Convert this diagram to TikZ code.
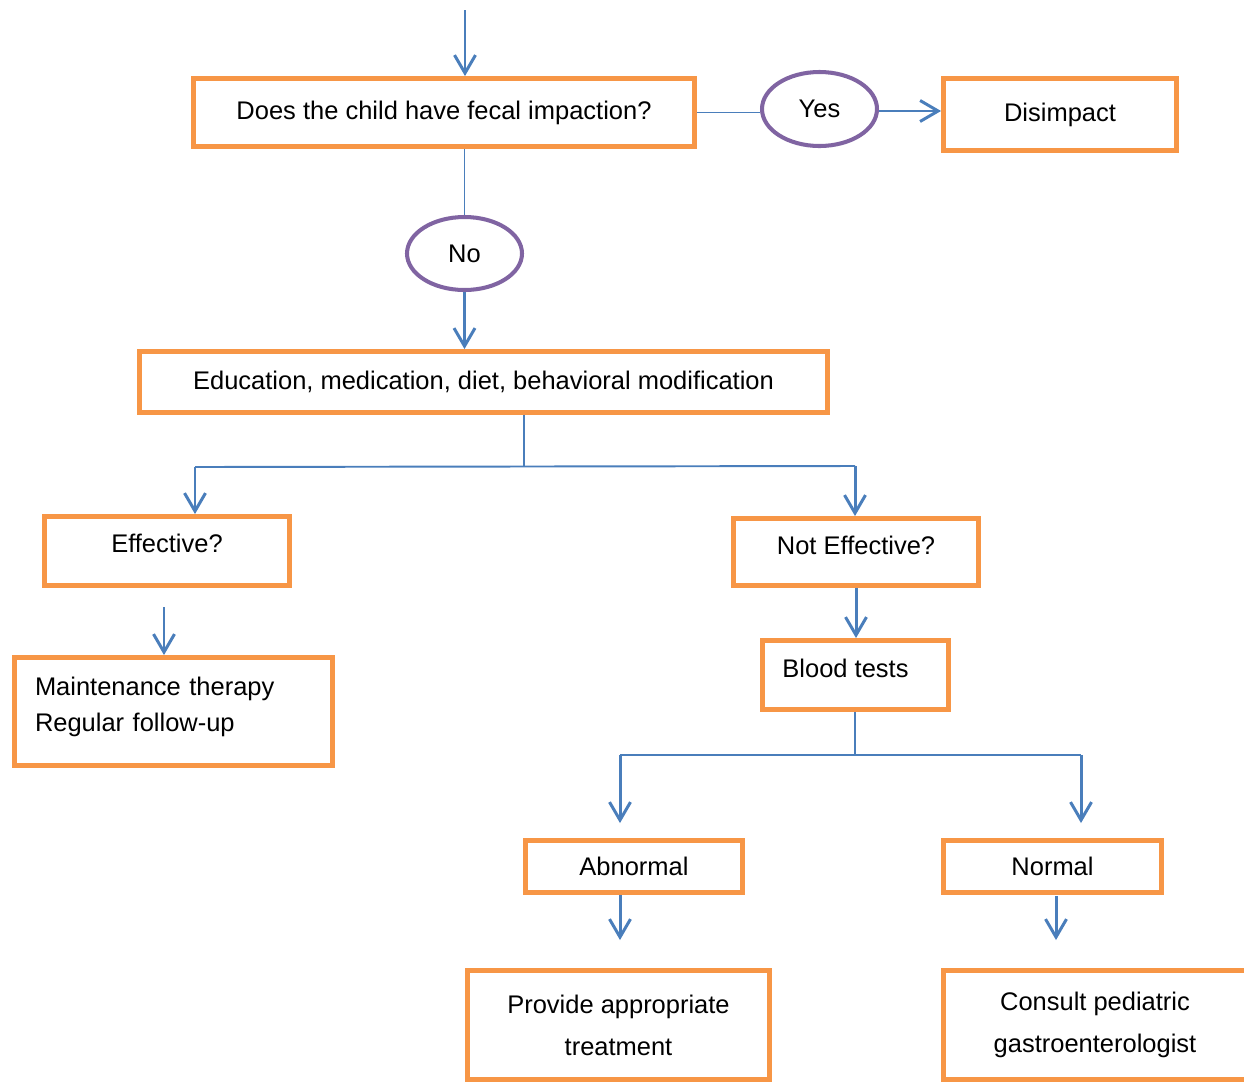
\documentclass[tikz,border=0pt]{standalone}
\usepackage{fontspec}
\setmainfont{Liberation Sans}
\usetikzlibrary{calc,shapes.geometric,arrows.meta}
\definecolor{boxorange}{HTML}{F79646}
\definecolor{linkblue}{HTML}{4A7EBB}
\definecolor{ovalpurple}{HTML}{8064A2}
\tikzset{
	stepbox/.style={draw=boxorange, line width=2.8pt, inner sep=0pt, align=center},
	oval/.style={ellipse, draw=ovalpurple, line width=2.3pt, inner sep=0pt},
	link/.style={draw=linkblue, line width=1.1pt},
	arr/.style={draw=linkblue, line width=1.7pt, -{Straight Barb[length=3.6mm,width=4.2mm]}}
}

\begin{document}
\begin{tikzpicture}[font=\fontsize{14.5}{20.4}\selectfont]
			%%%%% START %%%%%
			
			\useasboundingbox (0, 0) rectangle (24.88, -21.64);
			\clip (0, 0) rectangle (24.88, -21.64);
			
			\node[stepbox, minimum width=10.02cm, minimum height=1.36cm] (q) at (8.88, -2.25) {Does the child have fecal impaction?};
			\node[oval, minimum width=2.30cm, minimum height=1.48cm] (yes) at (16.39, -2.18) {Yes};
			\node[stepbox, minimum width=4.66cm, minimum height=1.44cm] (dis) at (21.20, -2.29) {Disimpact};
			\node[oval, minimum width=2.30cm, minimum height=1.46cm] (no) at (9.29, -5.07) {No};
			
			\node[stepbox, minimum width=13.76cm, minimum height=1.22cm] (edu) at (9.67, -7.64) {Education, medication, diet, behavioral modification};
			
			\node[stepbox, minimum width=4.90cm, minimum height=1.38cm, text depth=0.3cm] (eff) at (3.34, -11.02) {Effective?};
			\node[stepbox, minimum width=4.90cm, minimum height=1.34cm, text depth=0.25cm] (noteff) at (17.12, -11.04) {Not Effective?};
			\node[stepbox, minimum width=6.36cm, minimum height=2.16cm, text width=5.54cm, align=left, text depth=1.0cm] (maint) at (3.47, -14.23) {Maintenance therapy\\Regular follow-up};
			\node[stepbox, minimum width=3.72cm, minimum height=1.38cm, text depth=0.25cm] (blood) at (17.11, -13.50) {Blood tests\hspace{0.4cm}};
			
			\node[stepbox, minimum width=4.34cm, minimum height=1.04cm] (abn) at (12.68, -17.33) {Abnormal};
			\node[stepbox, minimum width=4.36cm, minimum height=1.04cm] (norm) at (21.05, -17.33) {Normal};
			\node[stepbox, minimum width=6.04cm, minimum height=2.18cm, font=\fontsize{14.5}{23.8}\selectfont] (prov) at (12.37, -20.50) {Provide appropriate\\treatment};
			\node[stepbox, minimum width=6.06cm, minimum height=2.18cm, font=\fontsize{14.5}{23.8}\selectfont] (cons) at (21.90, -20.50) {Consult pediatric\\gastroenterologist};
			
			% top of the chart
			\coordinate (start) at (9.30, -0.20);
			\draw[arr] (start) -- (start |- q.north);
			\draw[link] (q.east) -- (q.east -| yes.west);
			\draw[arr] ($(yes.east)+(0, -0.04)$) -- ($(yes.east -| dis.west)+(0, -0.04)$);
			\draw[link] (no.north |- q.south) -- (no.north);
			\draw[arr] (no.south) -- (no.south |- edu.north);
			
			% split after treatment
			\coordinate (es) at (10.48, -9.34);
			\coordinate (el) at (3.90, -9.34);
			\coordinate (er) at (17.10, -9.32);
			\draw[link] (edu.south -| es) -- (es);
			\draw[link] (el) -- (er);
			\draw[arr] (el) -- (el |- eff.north);
			\draw[arr] (er) -- (er |- noteff.north);
			
			\coordinate (ma) at (3.28, -12.14);
			\draw[arr] (ma) -- (ma |- maint.north);
			\draw[arr] (noteff.south) -- (noteff.south |- blood.north);
			
			% split after blood tests
			\coordinate (bs) at (17.10, -15.10);
			\coordinate (bl) at (12.40, -15.10);
			\coordinate (br) at (21.62, -15.10);
			\draw[link] (blood.south -| bs) -- (bs);
			\draw[link] (bl) -- (br);
			\draw[arr] (bl) -- ($(bl |- abn.north)+(0, 0.30)$);
			\draw[arr] (br) -- ($(br |- norm.north)+(0, 0.30)$);
			
			\coordinate (nc) at (21.12, -17.92);
			\draw[arr] (abn.south -| bl) -- ($(prov.north -| bl)+(0, 0.56)$);
			\draw[arr] (nc) -- ($(cons.north -| nc)+(0, 0.56)$);
			
			%%%%% END %%%%%
		\end{tikzpicture}
\end{document}
